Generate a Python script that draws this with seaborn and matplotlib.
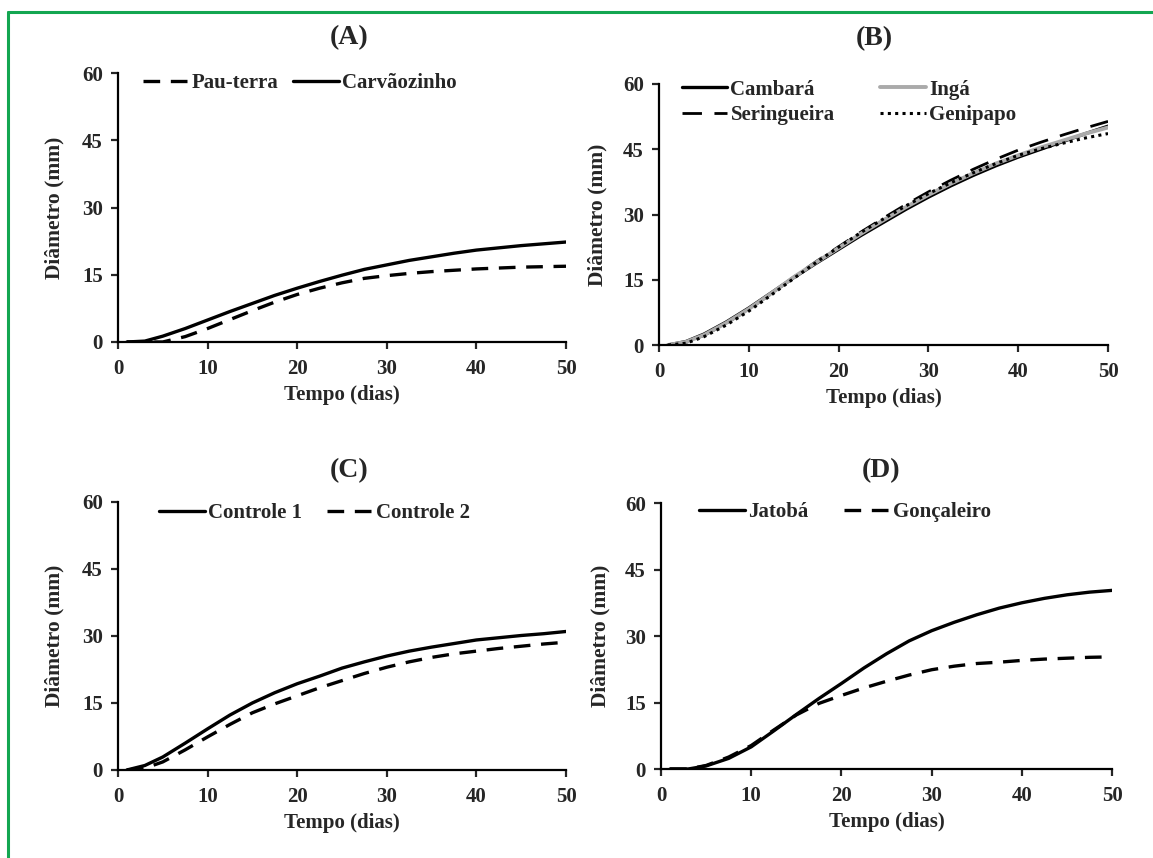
import matplotlib
matplotlib.use("Agg")
import matplotlib.pyplot as plt
import matplotlib.lines as mlines
import seaborn as sns

# Time axis (days) shared by every series
days = [1, 3, 5, 7.5, 10, 12.5, 15, 17.5, 20, 22.5, 25, 27.5, 30,
        32.5, 35, 37.5, 40, 42.5, 45, 47.5, 50]

# (A)
pau_terra = [0, 0, 0, 1.2, 3.0, 5.0, 7.0, 8.9, 10.6, 12.0, 13.2, 14.2, 14.8,
             15.3, 15.7, 16.0, 16.3, 16.5, 16.7, 16.8, 16.9]
carvaozinho = [0, 0.2, 1.3, 3.0, 4.9, 6.8, 8.6, 10.4, 12.0, 13.5, 14.9, 16.2, 17.2,
               18.2, 19.0, 19.8, 20.5, 21.0, 21.5, 21.9, 22.3]

# (B)
cambara = [0, 0.8, 2.5, 5.3, 8.5, 12.0, 15.5, 18.8, 22.0, 25.2, 28.2, 31.2, 34.0,
           36.6, 39.0, 41.2, 43.2, 45.0, 46.8, 48.6, 50.3]
inga = [0, 0.7, 2.3, 5.1, 8.3, 11.9, 15.6, 19.0, 22.3, 25.6, 28.7, 31.7, 34.5,
        37.1, 39.5, 41.7, 43.6, 45.4, 47.0, 48.6, 50.0]
seringueira = [0, 0.6, 2.2, 5.0, 8.2, 11.8, 15.6, 19.2, 22.6, 26.0, 29.2, 32.3, 35.2,
               37.9, 40.4, 42.7, 44.8, 46.6, 48.3, 49.9, 51.4]
genipapo = [0, 0.4, 1.9, 4.6, 7.8, 11.5, 15.3, 19.0, 22.5, 25.9, 29.0, 32.0, 34.8,
            37.3, 39.6, 41.7, 43.6, 45.1, 46.4, 47.6, 48.6]

# (C)
controle1 = [0, 1.0, 2.9, 6.0, 9.2, 12.3, 15.0, 17.3, 19.3, 21.0, 22.8, 24.2, 25.5,
             26.6, 27.5, 28.3, 29.1, 29.6, 30.1, 30.5, 31.0]
controle2 = [0, 0.4, 1.8, 4.5, 7.4, 10.2, 12.8, 14.8, 16.6, 18.4, 20.0, 21.6, 23.0,
             24.2, 25.2, 26.0, 26.6, 27.2, 27.7, 28.2, 28.6]

# (D)
jatoba = [0, 0, 0.7, 2.4, 5.0, 8.6, 12.3, 15.9, 19.3, 22.8, 26.0, 28.9, 31.2,
          33.1, 34.8, 36.3, 37.5, 38.5, 39.3, 39.9, 40.3]
goncaleiro = [0, 0, 0.8, 2.7, 5.3, 8.8, 12.2, 14.8, 16.6, 18.3, 19.8, 21.2, 22.4,
              23.2, 23.8, 24.1, 24.5, 24.8, 25.0, 25.2, 25.3]

x_ticks = [0, 10, 20, 30, 40, 50]
y_ticks = [0, 15, 30, 45, 60]

sns.set_style("ticks")
plt.rcParams["font.family"] = ["Liberation Serif", "DejaVu Serif"]
plt.rcParams["font.weight"] = "bold"

fig = plt.figure(figsize=(11.53, 8.58), dpi=100)

# line styles
SOLID = dict(color="black", linestyle="-", linewidth=2.4)
DASH = dict(color="black", linestyle=(0, (5, 3.2)), linewidth=2.4)
LONGDASH = dict(color="black", linestyle=(0, (7, 4.5)), linewidth=2.0)
GRAY = dict(color="#aaaaaa", linestyle="-", linewidth=2.8)
DOTS = dict(color="black", linestyle=(0, (1, 1.4)), linewidth=2.2)

panels = [
    # title, axes rect, title (x, y), ylabel x, xlabel y, series, legend opts
    ("(A)", [0.1023, 0.6014, 0.3886, 0.3135], (0.515, 1.132), -0.12, -0.16,
     [("Pau-terra", pau_terra, DASH), ("Carvãozinho", carvaozinho, SOLID)],
     dict(anchor=(0.055, 0.963), colsp=0.7)),
    ("(B)", [0.5716, 0.5979, 0.3894, 0.3042], (0.48, 1.175), -0.114, -0.165,
     [("Cambará", cambara, SOLID), ("Seringueira", seringueira, LONGDASH),
      ("Ingá", inga, GRAY), ("Genipapo", genipapo, DOTS)],
     dict(anchor=(0.05, 0.93), colsp=2.2)),
    ("(C)", [0.1023, 0.1026, 0.3886, 0.3124], (0.515, 1.118), -0.12, -0.16,
     [("Controle 1", controle1, SOLID), ("Controle 2", controle2, DASH)],
     dict(anchor=(0.092, 0.959), colsp=1.2)),
    ("(D)", [0.5733, 0.1037, 0.3912, 0.3100], (0.487, 1.122), -0.113, -0.16,
     [("Jatobá", jatoba, SOLID), ("Gonçaleiro", goncaleiro, DASH)],
     dict(anchor=(0.085, 0.966), colsp=1.7)),
]

for title, rect, tpos, ylx, xly, series, leg in panels:
    ax = fig.add_axes(rect)
    for name, values, style in series:
        sns.lineplot(x=days, y=values, ax=ax, label=name, **style)

    ax.set_xlim(0, 50)
    ax.set_ylim(0, 60)
    ax.set_xticks(x_ticks)
    ax.set_yticks(y_ticks)
    ax.tick_params(axis="both", direction="out", length=5, width=1.6, labelsize=15)
    ax.tick_params(axis="x", pad=7)
    ax.tick_params(axis="y", pad=6)
    for lab in ax.get_xticklabels() + ax.get_yticklabels():
        lab.set_fontweight("bold")
    for side in ["top", "right"]:
        ax.spines[side].set_visible(False)
    for side in ["left", "bottom"]:
        ax.spines[side].set_linewidth(1.6)
        ax.spines[side].set_color("black")

    ax.text(tpos[0], tpos[1], title, transform=ax.transAxes, ha="center",
            va="center", fontsize=20, fontweight="bold")
    ax.set_ylabel("Diâmetro (mm)", fontsize=15.5, fontweight="bold")
    ax.set_xlabel("Tempo (dias)", fontsize=15, fontweight="bold")
    ax.yaxis.set_label_coords(ylx, 0.5)
    ax.xaxis.set_label_coords(0.5, xly)

    ax.legend(loc="center left", bbox_to_anchor=leg["anchor"], ncol=2,
              frameon=False, borderpad=0, borderaxespad=0, handlelength=2.2,
              handletextpad=0.15, columnspacing=leg["colsp"], labelspacing=0.25,
              prop={"size": 15, "weight": "bold"})

# green frame around the figure (left and top edges)
green = "#13a651"
fig.add_artist(mlines.Line2D([8 / 1153, 8 / 1153], [0, 1 - 12 / 858],
                             transform=fig.transFigure, color=green, linewidth=2.2))
fig.add_artist(mlines.Line2D([8 / 1153, 1], [1 - 12 / 858, 1 - 12 / 858],
                             transform=fig.transFigure, color=green, linewidth=2.2))

fig.savefig("out.png", dpi=100)
